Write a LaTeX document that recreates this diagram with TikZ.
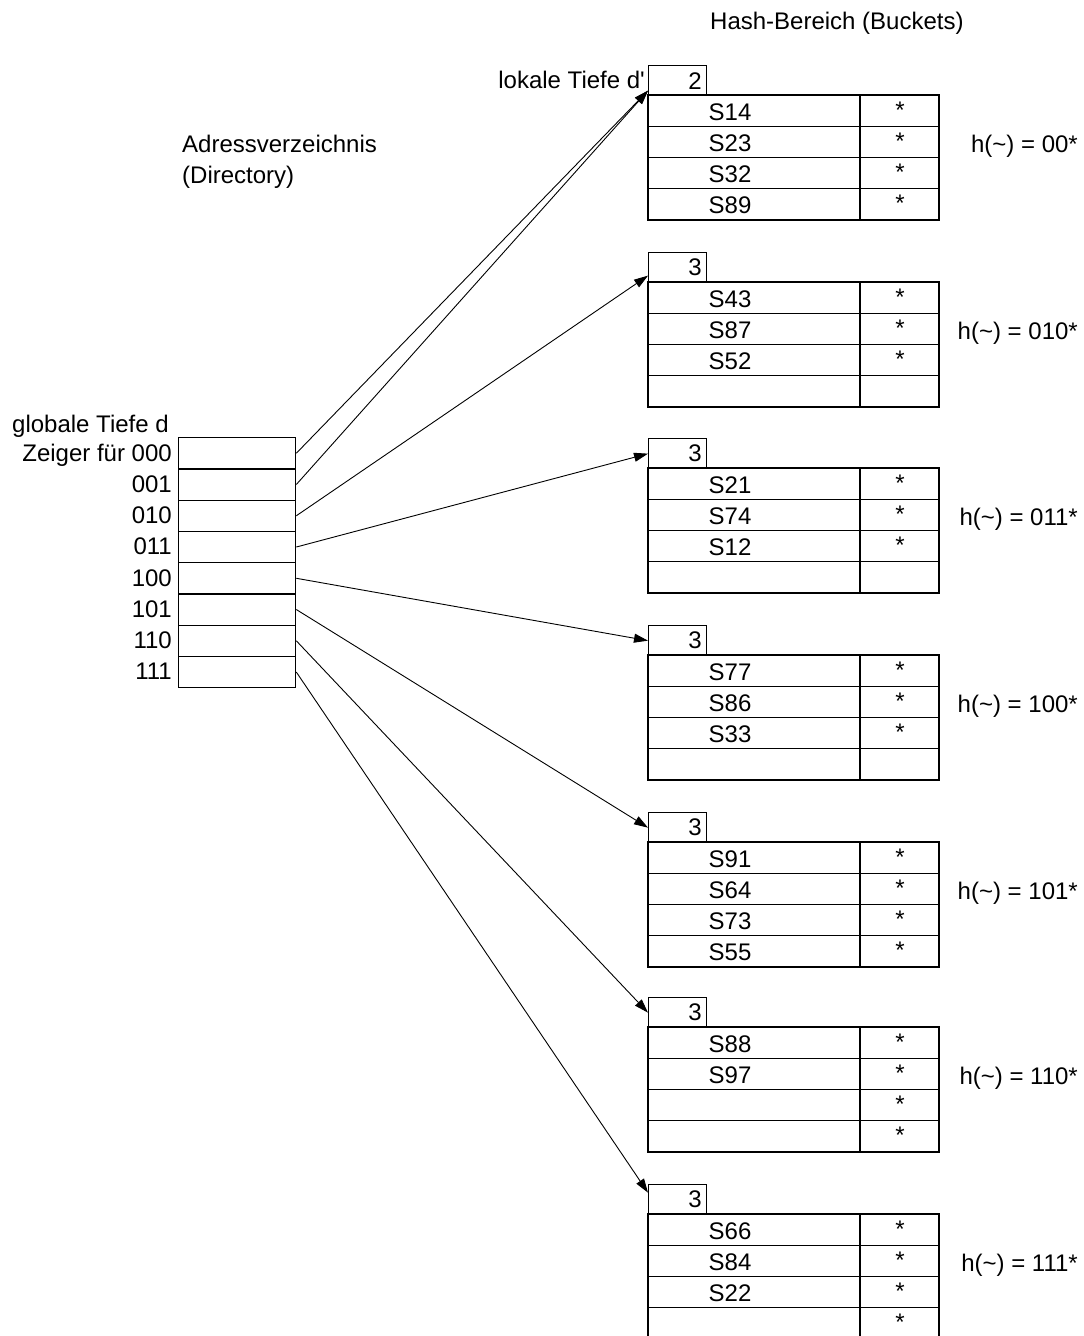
\documentclass[tikz,border=0pt]{standalone}
\usepackage{fontspec}
\setmainfont{Liberation Sans}
\usetikzlibrary{arrows.meta}
\begin{document}
\begin{tikzpicture}[x=1pt,y=-1pt,
  box/.style={draw, line width=1.3pt},
  txt/.style={font=\fontsize{24}{28}\selectfont, inner sep=0pt},
  ptr/.style={line width=0.9pt, -{Triangle[length=14pt,width=9pt]}}]
\useasboundingbox (0,0) rectangle (1084,1336);
\clip (0,0) rectangle (1084,1336);

% titles
\node[txt, anchor=base west] (title) at (710,29) {Hash-Bereich (Buckets)};
\node[txt, anchor=base west] (adr) at (182,152) {Adressverzeichnis};
\node[txt, anchor=base west] (dir) at (182,183) {(Directory)};
\node[txt, anchor=base east] (lok) at (645,88) {lokale Tiefe d\textquotesingle};
\node[txt, anchor=base west] (glob) at (12,432) {globale Tiefe d};

% directory
\foreach \k/\lab in {0/Zeiger für 000,1/001,2/010,3/011,4/100,5/101,6/110,7/111}{
  \node[box, anchor=north west, inner sep=0pt, minimum width=117, minimum height=31.25] (d\k) at (178,437+31.25*\k) {};
  \node[txt, anchor=base east] (l\k) at (172,437+31.25*\k+24) {\lab};
}

% buckets
\foreach \i/\top/\d/\ea/\eb/\ec/\ed/\sa/\sb/\sc/\sd/\h in {
  1/65/2/S14/S23/S32/S89/*/*/*/*/00*,
  2/252/3/S43/S87/S52/{}/*/*/*/{}/010*,
  3/438/3/S21/S74/S12/{}/*/*/*/{}/011*,
  4/625/3/S77/S86/S33/{}/*/*/*/{}/100*,
  5/812/3/S91/S64/S73/S55/*/*/*/*/101*,
  6/997/3/S88/S97/{}/{}/*/*/*/*/110*,
  7/1184/3/S66/S84/S22/{}/*/*/*/*/111*}{
  \node[box, txt, anchor=north west, minimum width=58, minimum height=30, text width=48, align=right] (b\i) at (648,\top) {\d};
  \draw[box] (648,\top+30) rectangle (939,\top+155);
  \draw[box] (860,\top+30) -- (860,\top+155);
  \foreach \r in {1,2,3}{\draw[box] (648,\top+30+31.25*\r) -- (939,\top+30+31.25*\r);}
  \node[txt, anchor=base] (e\i a) at (730,\top+55) {\ea};
  \node[txt, anchor=base] (e\i b) at (730,\top+86.25) {\eb};
  \node[txt, anchor=base] (e\i c) at (730,\top+117.5) {\ec};
  \node[txt, anchor=base] (e\i d) at (730,\top+148.75) {\ed};
  \node[txt, anchor=base] (p\i a) at (900,\top+53) {\sa};
  \node[txt, anchor=base] (p\i b) at (900,\top+84.25) {\sb};
  \node[txt, anchor=base] (p\i c) at (900,\top+115.5) {\sc};
  \node[txt, anchor=base] (p\i d) at (900,\top+146.75) {\sd};
  \node[txt, anchor=base east] (h\i) at (1078,\top+87) {h(\textasciitilde) = \h};
}
\draw[line width=2.6pt] (648,1214) -- (939,1214);

% pointers
\draw[ptr] (d0.east) -- ([yshift=-10pt]b1.west);
\draw[ptr] (d1.east) -- ([yshift=-10pt]b1.west);
\draw[ptr] (d2.east) -- ([yshift=-8pt]b2.west);
\draw[ptr] (d3.east) -- (b3.west);
\draw[ptr] (d4.east) -- (b4.west);
\draw[ptr] (d5.east) -- (b5.west);
\draw[ptr] (d6.east) -- (b6.west);
\draw[ptr] (d7.east) -- ([yshift=7pt]b7.west);
\end{tikzpicture}
\end{document}
